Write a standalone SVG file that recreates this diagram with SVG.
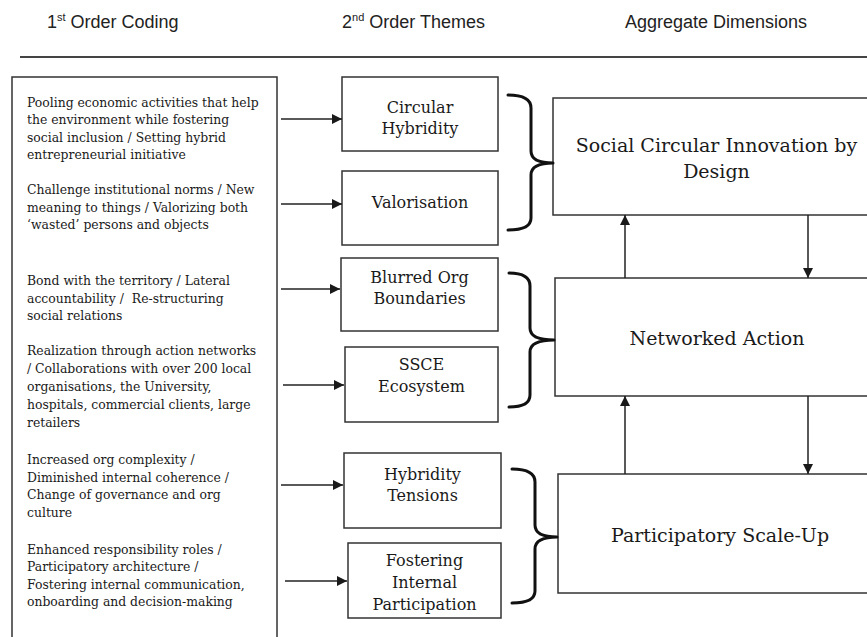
<svg xmlns="http://www.w3.org/2000/svg" width="867" height="637" viewBox="0 0 867 637">
<defs>
<marker id="ah" viewBox="0 0 10 10" refX="10" refY="5" markerWidth="10" markerHeight="10" markerUnits="userSpaceOnUse" orient="auto">
<path d="M0,0 L10,5 L0,10 Z" fill="#1a1a1a"/>
</marker>
<style>
.hdr{font-family:"Liberation Sans",Arial,sans-serif;font-size:18px;fill:#222}
.lt{font-family:"DejaVu Serif","Liberation Serif",serif;font-size:12.4px;fill:#1a1a1a;white-space:pre}
.mt{font-family:"DejaVu Serif","Liberation Serif",serif;font-size:16px;fill:#1a1a1a;text-anchor:middle}
.bt{font-family:"DejaVu Serif","Liberation Serif",serif;font-size:19px;fill:#1a1a1a;text-anchor:middle}
.box{fill:#fff;stroke:#333;stroke-width:1.5}
.conn{stroke:#222;stroke-width:1.5;fill:none}
.brace{stroke:#111;stroke-width:3;fill:none;stroke-linecap:round;stroke-linejoin:round}
</style>
</defs>
<rect width="867" height="637" fill="#fff"/>

<g id="header">
<text class="hdr" x="47" y="28">1<tspan font-size="11" dy="-7">st</tspan><tspan dy="7"> Order Coding</tspan></text>
<text class="hdr" x="342" y="28">2<tspan font-size="11" dy="-7">nd</tspan><tspan dy="7"> Order Themes</tspan></text>
<text class="hdr" x="625" y="28">Aggregate Dimensions</text>
<line x1="20" y1="57" x2="867" y2="57" stroke="#444" stroke-width="2"/>
</g>

<g id="first-order">
<rect class="box" x="12" y="77" width="265" height="580"/>
<text class="lt" x="27" y="106.5">Pooling economic activities that help</text>
<text class="lt" x="27" y="124">the environment while fostering</text>
<text class="lt" x="27" y="141.5">social inclusion / Setting hybrid</text>
<text class="lt" x="27" y="159">entrepreneurial initiative</text>
<text class="lt" x="27" y="194">Challenge institutional norms / New</text>
<text class="lt" x="27" y="211.5">meaning to things / Valorizing both</text>
<text class="lt" x="27" y="229">‘wasted’ persons and objects</text>
<text class="lt" x="27" y="285">Bond with the territory / Lateral</text>
<text class="lt" x="27" y="302.5">accountability /  Re-structuring</text>
<text class="lt" x="27" y="320">social relations</text>
<text class="lt" x="27" y="355">Realization through action networks</text>
<text class="lt" x="27" y="373">/ Collaborations with over 200 local</text>
<text class="lt" x="27" y="390.5">organisations, the University,</text>
<text class="lt" x="27" y="408.5">hospitals, commercial clients, large</text>
<text class="lt" x="27" y="426.5">retailers</text>
<text class="lt" x="27" y="463.5">Increased org complexity /</text>
<text class="lt" x="27" y="481.5">Diminished internal coherence /</text>
<text class="lt" x="27" y="499">Change of governance and org</text>
<text class="lt" x="27" y="516.5">culture</text>
<text class="lt" x="27" y="553.5">Enhanced responsibility roles /</text>
<text class="lt" x="27" y="571">Participatory architecture /</text>
<text class="lt" x="27" y="589">Fostering internal communication,</text>
<text class="lt" x="27" y="606">onboarding and decision-making</text>
</g>

<g id="circular-hybridity">
<rect class="box" x="342" y="77" width="156" height="74"/>
<text class="mt" x="420" y="113.3">Circular</text>
<text class="mt" x="420" y="134.3">Hybridity</text>
</g>
<g id="valorisation">
<rect class="box" x="342" y="171" width="156" height="74"/>
<text class="mt" x="420" y="208">Valorisation</text>
</g>
<g id="blurred-org-boundaries">
<rect class="box" x="341" y="258" width="157" height="73"/>
<text class="mt" x="419.5" y="283.3">Blurred Org</text>
<text class="mt" x="419.5" y="304.3">Boundaries</text>
</g>
<g id="ssce-ecosystem">
<rect class="box" x="345" y="347" width="153" height="75"/>
<text class="mt" x="421.5" y="370">SSCE</text>
<text class="mt" x="421.5" y="391.7">Ecosystem</text>
</g>
<g id="hybridity-tensions">
<rect class="box" x="344" y="453" width="157" height="75"/>
<text class="mt" x="422.5" y="480">Hybridity</text>
<text class="mt" x="422.5" y="501">Tensions</text>
</g>
<g id="fostering-internal-participation">
<rect class="box" x="348" y="543" width="153" height="75"/>
<text class="mt" x="424.5" y="566">Fostering</text>
<text class="mt" x="424.5" y="588.3">Internal</text>
<text class="mt" x="424.5" y="610">Participation</text>
</g>

<g id="social-circular-innovation">
<rect class="box" x="553" y="98" width="330" height="117"/>
<text class="bt" x="716.5" y="151.7">Social Circular Innovation by</text>
<text class="bt" x="716.5" y="178.3">Design</text>
</g>
<g id="networked-action">
<rect class="box" x="555" y="278" width="330" height="118"/>
<text class="bt" x="717" y="345">Networked Action</text>
</g>
<g id="participatory-scale-up">
<rect class="box" x="558" y="474" width="330" height="119"/>
<text class="bt" x="720" y="541.7">Participatory Scale-Up</text>
</g>

<g id="connectors">
<line class="conn" x1="281" y1="119" x2="342" y2="119" marker-end="url(#ah)"/>
<line class="conn" x1="281" y1="204" x2="342" y2="204" marker-end="url(#ah)"/>
<line class="conn" x1="281" y1="289" x2="340" y2="289" marker-end="url(#ah)"/>
<line class="conn" x1="283" y1="385" x2="344" y2="385" marker-end="url(#ah)"/>
<line class="conn" x1="281" y1="485" x2="343" y2="485" marker-end="url(#ah)"/>
<line class="conn" x1="285" y1="581" x2="347" y2="581" marker-end="url(#ah)"/>

<line class="conn" x1="625" y1="278" x2="625" y2="215" marker-end="url(#ah)"/>
<line class="conn" x1="808" y1="215" x2="808" y2="278" marker-end="url(#ah)"/>
<line class="conn" x1="625" y1="474" x2="625" y2="396" marker-end="url(#ah)"/>
<line class="conn" x1="808" y1="396" x2="808" y2="474" marker-end="url(#ah)"/>

<path class="brace" d="M508,95 Q531,95 531,108 L531,151 Q531,163 553,163 Q531,163 531,175 L531,218 Q531,230 508,230"/>
<path class="brace" d="M509,273 Q530,273 530,286 L530,328 Q530,340 554,340 Q530,340 530,352 L530,395 Q530,407 509,407"/>
<path class="brace" d="M512,469 Q535,469 535,482 L535,525 Q535,537 557,537 Q535,537 535,549 L535,591 Q535,603 512,603"/>
</g>
</svg>
